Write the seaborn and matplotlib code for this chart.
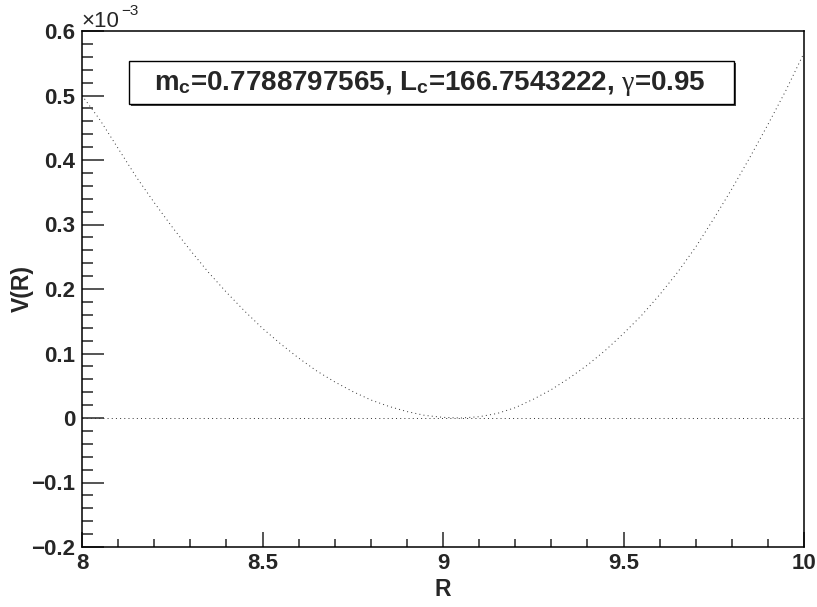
import numpy as np
import seaborn as sns
import matplotlib.pyplot as plt
from matplotlib.patches import Rectangle

# values, V in units of 1e-3
R = [8.00, 8.05, 8.10, 8.15, 8.20, 8.25, 8.30, 8.35, 8.40, 8.45,
     8.50, 8.55, 8.60, 8.65, 8.70, 8.75, 8.80, 8.85, 8.90, 8.95,
     9.00, 9.05, 9.10, 9.15, 9.20, 9.25, 9.30, 9.35, 9.40, 9.45,
     9.50, 9.55, 9.60, 9.65, 9.70, 9.75, 9.80, 9.85, 9.90, 9.95, 10.00]
V = [0.500, 0.462, 0.418, 0.374, 0.334, 0.296, 0.260, 0.226, 0.195, 0.166,
     0.139, 0.115, 0.093, 0.073, 0.056, 0.041, 0.028, 0.018, 0.010, 0.004,
     0.001, 0.000, 0.002, 0.007, 0.016, 0.029, 0.044, 0.062, 0.082, 0.105,
     0.131, 0.159, 0.191, 0.226, 0.265, 0.309, 0.355, 0.404, 0.455, 0.508, 0.566]

xticks = [8, 8.5, 9, 9.5, 10]
xticklabels = ["8", "8.5", "9", "9.5", "10"]
yticks = [-0.2, -0.1, 0, 0.1, 0.2, 0.3, 0.4, 0.5, 0.6]
yticklabels = ["\u22120.2", "\u22120.1", "0", "0.1", "0.2", "0.3", "0.4", "0.5", "0.6"]
label_text = r"m$_\mathregular{c}$=0.7788797565, L$_\mathregular{c}$=166.7543222, $\gamma$=0.95"

sns.set_style("white")
plt.rcParams['font.family'] = ['Liberation Sans', 'DejaVu Sans']
plt.rcParams['mathtext.fontset'] = 'custom'
plt.rcParams['mathtext.rm'] = 'Liberation Sans:bold'
plt.rcParams['mathtext.it'] = 'Liberation Serif'
plt.rcParams['mathtext.bf'] = 'Liberation Sans:bold'

fig = plt.figure(figsize=(8.17, 6.07), dpi=100)
ax = fig.add_axes([82/817, 1-547/607, 722/817, 516/607])

sns.lineplot(x=R, y=V, ax=ax, color='#333333', linewidth=0.7,
             linestyle=(0, (1, 3.3)))
ax.axhline(0, color='#333333', linewidth=0.7, linestyle=(0, (1, 3.3)))

ax.set_xlim(8, 10)
ax.set_ylim(-0.2, 0.6)
ax.set_xticks(xticks)
ax.set_xticklabels(xticklabels)
ax.set_yticks(yticks)
ax.set_yticklabels(yticklabels)
ax.set_xticks(np.arange(8, 10.001, 0.1), minor=True)
ax.set_yticks(np.arange(-0.2, 0.6001, 0.02), minor=True)

for lbl in ax.get_xticklabels() + ax.get_yticklabels():
    lbl.set_fontweight('bold')
    lbl.set_fontsize(16)

ax.tick_params(bottom=True, left=True, top=False, right=False, which='both')
ax.tick_params(axis='x', which='major', direction='in', length=11, width=1.1, pad=4)
ax.tick_params(axis='x', which='minor', direction='in', length=5.5, width=1.1)
ax.tick_params(axis='y', which='major', direction='in', length=15.5, width=1.1, pad=5)
ax.tick_params(axis='y', which='minor', direction='in', length=7.8, width=1.1)
for s in ax.spines.values():
    s.set_linewidth(1.1)
    s.set_color('black')

ax.set_xlabel("R", fontsize=16.5, fontweight='bold')
ax.set_ylabel("V(R)", fontsize=16.5, fontweight='bold')
ax.xaxis.set_label_coords(0.5, (547-590)/516)
ax.yaxis.set_label_coords((22-82)/722, 0.5)
ax.xaxis.label.set_verticalalignment('center')
ax.yaxis.label.set_verticalalignment('center')

# exponent
fig.text(81/817, 1-27/607, "\u00d710", fontsize=16, va='baseline', ha='left')
fig.text(121/817, 1-15/607, "\u22123", fontsize=11, va='baseline', ha='left')

# text box
fig.patches.append(Rectangle((131/817, 1-106/607), 605/817, 43/607,
                             transform=fig.transFigure, facecolor='#444444',
                             edgecolor='none', zorder=3))
fig.patches.append(Rectangle((129/817, 1-104/607), 605/817, 43/607,
                             transform=fig.transFigure, facecolor='white',
                             edgecolor='black', linewidth=1.0, zorder=4))
fig.text(430/817, 1-83/607, label_text, fontsize=20, fontweight='bold',
         ha='center', va='center', zorder=5)

plt.savefig('out.png', dpi=100)
